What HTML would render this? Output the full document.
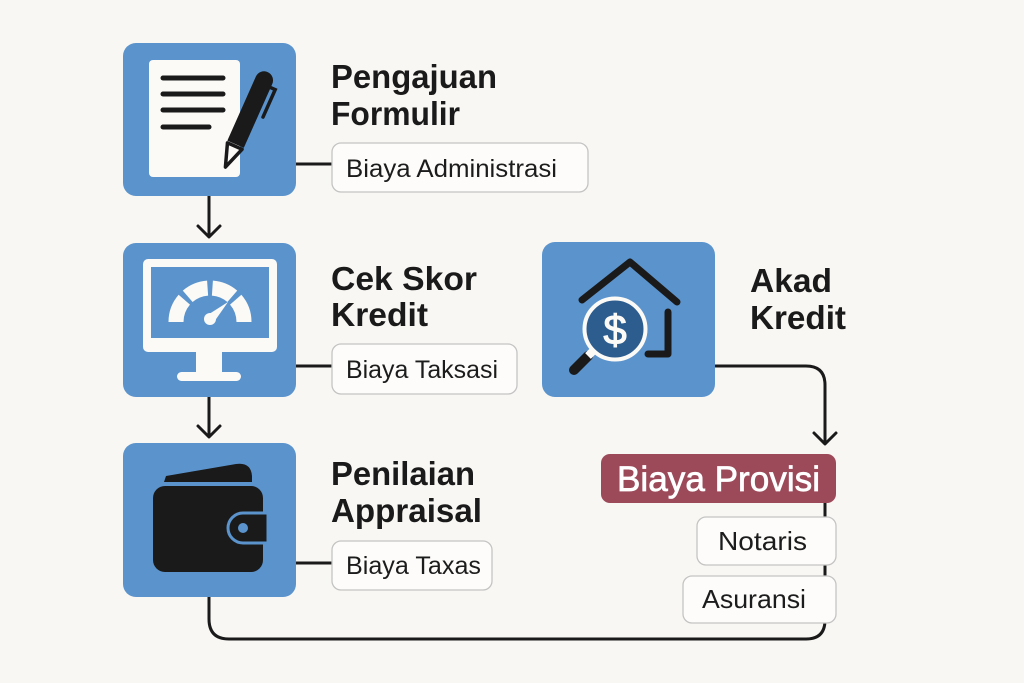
<!DOCTYPE html>
<html>
<head>
<meta charset="utf-8">
<style>
  html,body{margin:0;padding:0;background:#f9f7f3;}
  svg{display:block;}
  .t{font-family:"Liberation Sans",sans-serif;font-weight:bold;font-size:33px;fill:#1a1a1a;}
  .l{font-family:"Liberation Sans",sans-serif;font-size:25px;fill:#1c1c1c;}
</style>
</head>
<body>
<svg width="1024" height="683" viewBox="0 0 1024 683" xmlns="http://www.w3.org/2000/svg">
  <rect x="0" y="0" width="1024" height="683" fill="#f9f7f3"/>

  <!-- connectors -->
  <g fill="none" stroke="#1a1a1a" stroke-width="3" stroke-linecap="round" stroke-linejoin="round">
    <line x1="296" y1="164" x2="332" y2="164"/>
    <line x1="296" y1="366" x2="332" y2="366"/>
    <line x1="296" y1="563" x2="332" y2="563"/>
    <line x1="209" y1="196" x2="209" y2="236"/>
    <polyline points="198,226 209,237 220,226"/>
    <line x1="209" y1="397" x2="209" y2="436"/>
    <polyline points="198,426 209,437 220,426"/>
    <path d="M209,597 L209,619 Q209,639 229,639 L806,639 Q825,639 825,620 L825,503"/>
    <path d="M715,366 L806,366 Q825,366 825,385 L825,443"/>
    <polyline points="814,433 825,444 836,433"/>
  </g>

  <!-- Box 1 -->
  <rect x="123" y="43" width="173" height="153" rx="13" fill="#5b94cd"/>
  <rect x="149" y="60" width="91" height="117" rx="4" fill="#fbfaf7"/>
  <g stroke="#1a1a1a" stroke-width="5" stroke-linecap="round">
    <line x1="163" y1="78" x2="223" y2="78"/>
    <line x1="163" y1="94" x2="223" y2="94"/>
    <line x1="163" y1="110" x2="223" y2="110"/>
    <line x1="163" y1="127" x2="209" y2="127"/>
  </g>
  <g transform="translate(225,168) rotate(24)">
    <polygon points="-8,-24 8,-24 0,-1" fill="#fbfaf7" stroke="#1a1a1a" stroke-width="3.5" stroke-linejoin="round"/>
    <path d="M-9,-26 L-9,-96 A9,9 0 0 1 9,-96 L9,-26 Z" fill="#1a1a1a"/>
    <path d="M8,-92 L14,-92 L14,-62" fill="none" stroke="#1a1a1a" stroke-width="3.5" stroke-linecap="round"/>
  </g>

  <text class="t" x="331" y="88" textLength="166" lengthAdjust="spacingAndGlyphs">Pengajuan</text>
  <text class="t" x="331" y="125" textLength="129" lengthAdjust="spacingAndGlyphs">Formulir</text>
  <rect x="332" y="143" width="256" height="49" rx="9" fill="#fdfcfa" stroke="#c4c4c4" stroke-width="1.3"/>
  <text class="l" x="346" y="177" textLength="211" lengthAdjust="spacingAndGlyphs">Biaya Administrasi</text>

  <!-- Box 2 -->
  <rect x="123" y="243" width="173" height="154" rx="13" fill="#5b94cd"/>
  <rect x="143" y="259" width="134" height="93" rx="5" fill="#fbfaf7"/>
  <rect x="151" y="267" width="118" height="71" fill="#5b94cd"/>
  <rect x="196" y="351" width="26" height="23" fill="#fbfaf7"/>
  <rect x="177" y="372" width="64" height="9" rx="4.5" fill="#fbfaf7"/>
  <g fill="none" stroke="#fbfaf7" stroke-width="15">
    <path d="M176,322 A34,34 0 0 1 184.3,299.7"/>
    <path d="M187.7,296.3 A34,34 0 0 1 207.6,288.1"/>
    <path d="M212.4,288.1 A34,34 0 0 1 232.3,296.3"/>
    <path d="M235.7,299.7 A34,34 0 0 1 244,322"/>
  </g>
  <circle cx="210" cy="319" r="6" fill="#fbfaf7"/>
  <polygon points="206,316 214,322 228,302" fill="#fbfaf7"/>

  <text class="t" x="331" y="290" textLength="146" lengthAdjust="spacingAndGlyphs">Cek Skor</text>
  <text class="t" x="331" y="326" textLength="97" lengthAdjust="spacingAndGlyphs">Kredit</text>
  <rect x="332" y="344" width="185" height="50" rx="9" fill="#fdfcfa" stroke="#c4c4c4" stroke-width="1.3"/>
  <text class="l" x="346" y="378" textLength="152" lengthAdjust="spacingAndGlyphs">Biaya Taksasi</text>

  <!-- Box 3 -->
  <rect x="123" y="443" width="173" height="154" rx="13" fill="#5b94cd"/>
  <path d="M164,482 L166,476 L236,464 Q251,462 252,476 L252,482 Z" fill="#1a1a1a"/>
  <rect x="153" y="486" width="110" height="86" rx="12" fill="#1a1a1a"/>
  <path d="M268,513 L243,513 A15,15 0 0 0 243,543 L268,543 Z" fill="#1a1a1a" stroke="#5b94cd" stroke-width="3"/>
  <circle cx="243" cy="528" r="5" fill="#5b94cd"/>

  <text class="t" x="331" y="485" textLength="144" lengthAdjust="spacingAndGlyphs">Penilaian</text>
  <text class="t" x="331" y="522" textLength="151" lengthAdjust="spacingAndGlyphs">Appraisal</text>
  <rect x="332" y="541" width="160" height="49" rx="9" fill="#fdfcfa" stroke="#c4c4c4" stroke-width="1.3"/>
  <text class="l" x="346" y="574" textLength="135" lengthAdjust="spacingAndGlyphs">Biaya Taxas</text>

  <!-- Box 4 -->
  <rect x="542" y="242" width="173" height="155" rx="13" fill="#5b94cd"/>
  <g fill="none" stroke="#1a1a1a" stroke-width="7" stroke-linecap="round" stroke-linejoin="round">
    <polyline points="582,300 630,262 677,302"/>
    <polyline points="668,312 668,354 648,354"/>
  </g>
  <line x1="588" y1="356" x2="574" y2="370" stroke="#1a1a1a" stroke-width="10" stroke-linecap="round"/>
  <line x1="594" y1="350" x2="588" y2="356" stroke="#fbfaf7" stroke-width="8"/>
  <circle cx="615" cy="329" r="30.5" fill="#2d5d8f" stroke="#fbfaf7" stroke-width="4"/>
  <text x="615" y="344" text-anchor="middle" font-family="Liberation Sans, sans-serif" font-size="42" fill="#fbfaf7" stroke="#fbfaf7" stroke-width="1">$</text>

  <text class="t" x="750" y="292" textLength="82" lengthAdjust="spacingAndGlyphs">Akad</text>
  <text class="t" x="750" y="329" textLength="96" lengthAdjust="spacingAndGlyphs">Kredit</text>

  <!-- Provisi -->
  <rect x="601" y="454" width="235" height="49" rx="9" fill="#9c4a5a"/>
  <text x="617" y="491" textLength="203" lengthAdjust="spacingAndGlyphs" font-family="Liberation Sans, sans-serif" font-size="35" fill="#ffffff" stroke="#ffffff" stroke-width="0.7">Biaya Provisi</text>

  <rect x="697" y="517" width="139" height="48" rx="9" fill="#fdfcfa" stroke="#c4c4c4" stroke-width="1.3"/>
  <text class="l" x="718" y="550" style="font-size:26px" textLength="89" lengthAdjust="spacingAndGlyphs">Notaris</text>
  <rect x="683" y="576" width="153" height="47" rx="9" fill="#fdfcfa" stroke="#c4c4c4" stroke-width="1.3"/>
  <text class="l" x="702" y="608" style="font-size:26px" textLength="104" lengthAdjust="spacingAndGlyphs">Asuransi</text>
</svg>
</body>
</html>
